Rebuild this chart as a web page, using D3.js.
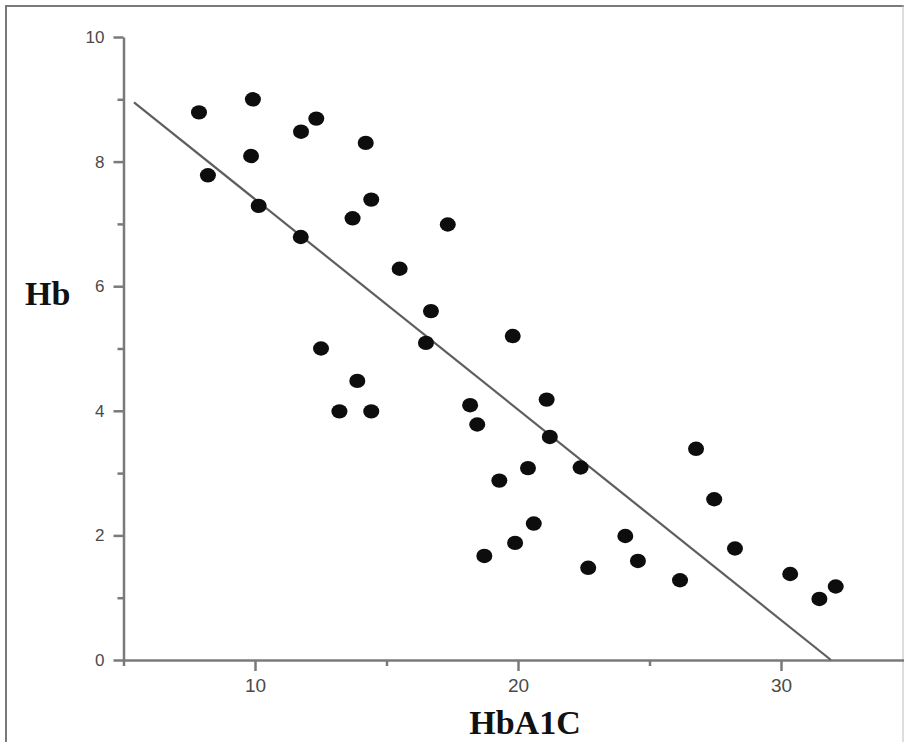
<!DOCTYPE html>
<html>
<head>
<meta charset="utf-8">
<script src="https://cdn.jsdelivr.net/npm/d3@7/dist/d3.min.js"></script>
<style>
  html, body { margin: 0; padding: 0; background: #fff; }
  svg { display: block; }
</style>
</head>
<body>
<svg id="chart" width="904" height="742"></svg>
<script>
// ---- data ----
const hba1c = [7.87, 8.21, 9.92, 9.85, 10.14, 11.75, 12.33, 11.74, 14.21, 13.71,
               14.42, 12.51, 13.89, 13.21, 14.42, 15.50, 17.33, 16.69, 16.50, 18.18,
               18.45, 19.80, 21.09, 21.21, 19.29, 20.38, 18.72, 19.89, 20.60, 22.38,
               22.67, 24.08, 24.56, 26.77, 27.46, 26.16, 28.25, 30.35, 31.46, 32.08];
const hb    = [8.79, 7.78, 9.00, 8.09, 7.29, 8.48, 8.69, 6.79, 8.30, 7.09,
               7.39, 5.00, 4.48, 3.99, 3.99, 6.28, 6.99, 5.60, 5.09, 4.09,
               3.78, 5.20, 4.18, 3.58, 2.88, 3.08, 1.67, 1.88, 2.19, 3.09,
               1.48, 1.99, 1.59, 3.39, 2.58, 1.28, 1.79, 1.38, 0.98, 1.18];
const fitX = [5.4, 31.9];
const fitY = [8.95, 0];
const xMajorTicks = [10, 20, 30];
const xMinorTicks = [5, 15, 25];
const yMajorTicks = [0, 2, 4, 6, 8, 10];
const yMinorTicks = [1, 3, 5, 7, 9];
const xTitle = "HbA1C";
const yTitle = "Hb";

// ---- drawing ----
const svg = d3.select("#chart");
const x = d3.scaleLinear().domain([5, 35]).range([123.5, 912.5]);
const y = d3.scaleLinear().domain([0, 10]).range([660, 37]);

// frame
svg.append("line").attr("x1", 5).attr("x2", 904).attr("y1", 6).attr("y2", 6)
  .attr("stroke", "#7a7a7a").attr("stroke-width", 2);
svg.append("line").attr("x1", 6).attr("x2", 6).attr("y1", 5).attr("y2", 742)
  .attr("stroke", "#7a7a7a").attr("stroke-width", 2);
svg.append("line").attr("x1", 903).attr("x2", 903).attr("y1", 5).attr("y2", 742)
  .attr("stroke", "#bbbbbb").attr("stroke-width", 1);

const axisColor = "#7a7a7a";
const labelColor = "#4a4a4a";

function styleAxis(g) {
  g.selectAll("path.domain").attr("stroke", axisColor).attr("stroke-width", 2.5);
  g.selectAll(".tick line").attr("stroke", axisColor).attr("stroke-width", 2.5);
  g.selectAll(".tick text").attr("fill", labelColor)
    .attr("font-family", "Liberation Sans, Arial, sans-serif");
}

// y axis
const gy = svg.append("g").attr("transform", `translate(${x(5)},0)`)
  .call(d3.axisLeft(y).tickValues(yMajorTicks).tickSize(10).tickPadding(9).tickSizeOuter(0));
styleAxis(gy);
gy.selectAll(".tick text").attr("font-size", 17);
const gyMinor = svg.append("g").attr("transform", `translate(${x(5)},0)`)
  .call(d3.axisLeft(y).tickValues(yMinorTicks).tickSize(6).tickFormat("").tickSizeOuter(0));
styleAxis(gyMinor);
gyMinor.select("path.domain").remove();

// x axis
const gx = svg.append("g").attr("transform", `translate(0,${y(0)})`)
  .call(d3.axisBottom(x).tickValues(xMajorTicks).tickSize(11).tickPadding(8).tickSizeOuter(0));
styleAxis(gx);
gx.selectAll(".tick text").attr("font-size", 19);
const gxMinor = svg.append("g").attr("transform", `translate(0,${y(0)})`)
  .call(d3.axisBottom(x).tickValues(xMinorTicks).tickSize(6).tickFormat("").tickSizeOuter(0));
styleAxis(gxMinor);
gxMinor.select("path.domain").remove();

// fit line
svg.append("line")
  .attr("x1", x(fitX[0])).attr("y1", y(fitY[0]))
  .attr("x2", x(fitX[1])).attr("y2", y(fitY[1]))
  .attr("stroke", "#5e5e5e").attr("stroke-width", 2.2);

// points
svg.append("g").selectAll("ellipse")
  .data(hba1c.map((v, i) => [v, hb[i]]))
  .join("ellipse")
  .attr("cx", d => x(d[0])).attr("cy", d => y(d[1]))
  .attr("rx", 8).attr("ry", 7.2)
  .attr("fill", "#0d0d0d");

// titles
svg.append("text").attr("x", 25).attr("y", 305)
  .attr("font-family", "Liberation Serif, Times New Roman, serif")
  .attr("font-weight", "bold").attr("font-size", 34).attr("fill", "#111")
  .text(yTitle);
svg.append("text").attr("x", 525).attr("y", 734).attr("text-anchor", "middle")
  .attr("font-family", "Liberation Serif, Times New Roman, serif")
  .attr("font-weight", "bold").attr("font-size", 34).attr("fill", "#111")
  .text(xTitle);
</script>
</body>
</html>
